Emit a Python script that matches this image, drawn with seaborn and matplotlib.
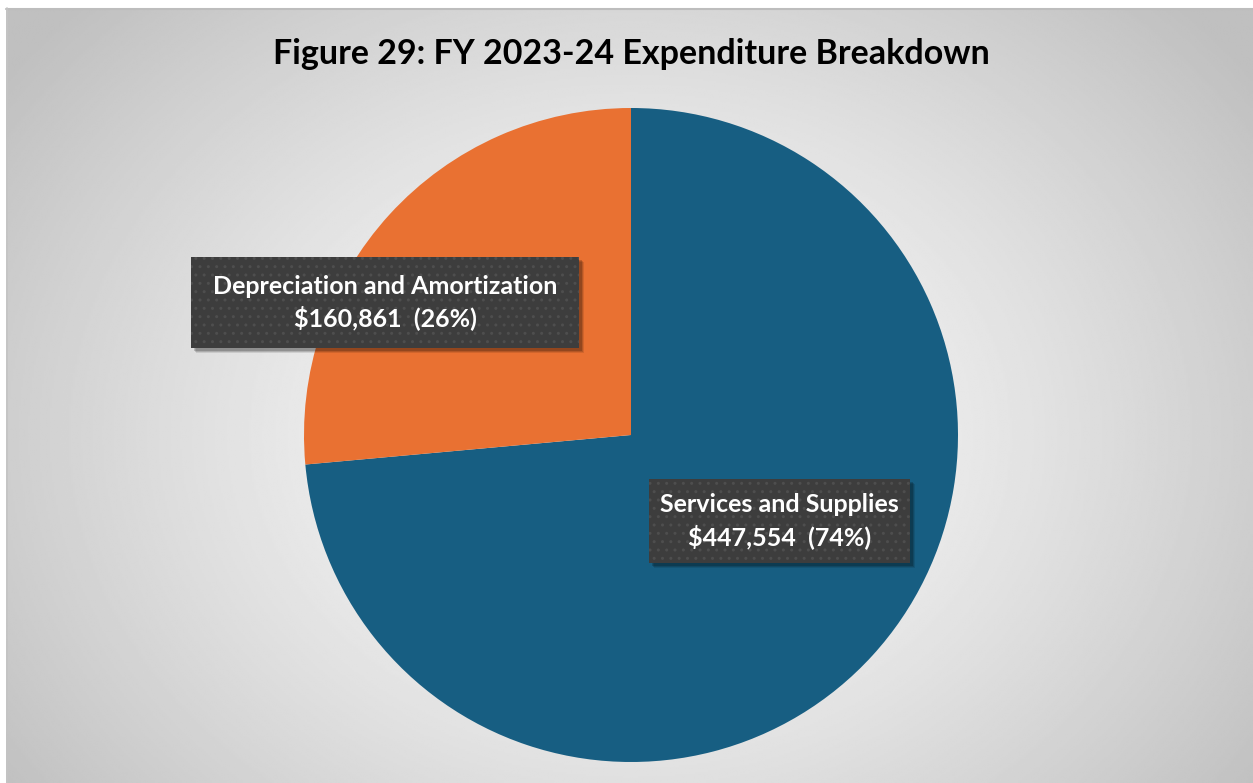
import numpy as np
import seaborn as sns
import matplotlib.pyplot as plt
from matplotlib.patches import Rectangle

categories = ['Services and Supplies', 'Depreciation and Amortization']
amounts = [447554, 160861]
colors = ['#175E82', '#E97132']

if __name__ == "__main__":
    sns.set_style('white')
    plt.rcParams['font.family'] = ['Lato', 'DejaVu Sans']

    W, H = 1253, 783
    fig = plt.figure(figsize=(W / 100, H / 100), dpi=100)
    fig.patch.set_facecolor('white')

    # --- background panel with radial grey gradient ---
    bg = fig.add_axes([6 / W, 0, 1 - 6 / W, (H - 8) / H])
    yy, xx = np.mgrid[0:400, 0:640]
    cx, cy = 320, 220
    r = np.sqrt(((xx - cx) / 640) ** 2 + ((yy - cy) / 400) ** 2 * 0.6)
    r = np.clip(r / 0.62, 0, 1)
    shade = 0.99 - 0.24 * r ** 1.3
    bg.imshow(shade, cmap='gray', vmin=0, vmax=1, aspect='auto', interpolation='bilinear')
    bg.set_axis_off()
    fig.add_artist(plt.Line2D([6 / W, 1], [(H - 8.5) / H] * 2, color='#bdbdbd', lw=1.5))
    fig.add_artist(plt.Line2D([6.5 / W] * 2, [0, (H - 8) / H], color='#c4c4c4', lw=1.2))

    # --- pie ---
    cxp, cyp, rad = 631, 435, 327
    ax = fig.add_axes([(cxp - rad) / W, (H - cyp - rad) / H, 2 * rad / W, 2 * rad / H])
    total = sum(amounts)
    ax.pie(amounts, colors=colors, startangle=90, counterclock=False,
           wedgeprops=dict(linewidth=0))
    ax.set_xlim(-1, 1)
    ax.set_ylim(-1, 1)
    ax.set_aspect('auto')
    ax.set_axis_off()

    fig.text(631 / W, 1 - 54 / H, 'Figure 29: FY 2023-24 Expenditure Breakdown',
             ha='center', va='center', fontsize=24.5, fontweight='bold', color='black')

    # data labels in dark boxes with a soft shadow
    label_pos = [(0.453, -0.263), (-0.752, 0.405)]
    pads = [(11, 14), (22, 17.5)]
    texts = []
    for cat, amt, (lx, ly) in zip(categories, amounts, label_pos):
        pct = round(amt / total * 100)
        t = ax.text(lx, ly, f'{cat}\n${amt:,}  ({pct}%)', ha='center', va='center',
                    fontsize=18, fontweight='bold', color='white', linespacing=1.35,
                    zorder=5, clip_on=False)
        texts.append(t)

    fig.canvas.draw()
    renderer = fig.canvas.get_renderer()
    for t, (padx, pady) in zip(texts, pads):
        bb = t.get_window_extent(renderer)
        x0, y0 = bb.x0 - padx, bb.y0 - pady
        w, h = bb.width + 2 * padx, bb.height + 2 * pady
        for k, a in [(5, 0.10), (4, 0.14), (3, 0.18)]:
            sh = Rectangle(((x0 + k) / W, (y0 - k) / H), w / W, h / H,
                           transform=fig.transFigure, facecolor='black', alpha=a,
                           linewidth=0, zorder=3.9, clip_on=False)
            ax.add_artist(sh)
            sh.set_clip_on(False)
        box = Rectangle((x0 / W, y0 / H), w / W, h / H, transform=fig.transFigure,
                        facecolor='#3d3d3d', edgecolor='#4e4e4e', hatch='..',
                        linewidth=0, zorder=4, clip_on=False)
        ax.add_artist(box)
        box.set_clip_on(False)

    plt.savefig('out.png', dpi=100)
